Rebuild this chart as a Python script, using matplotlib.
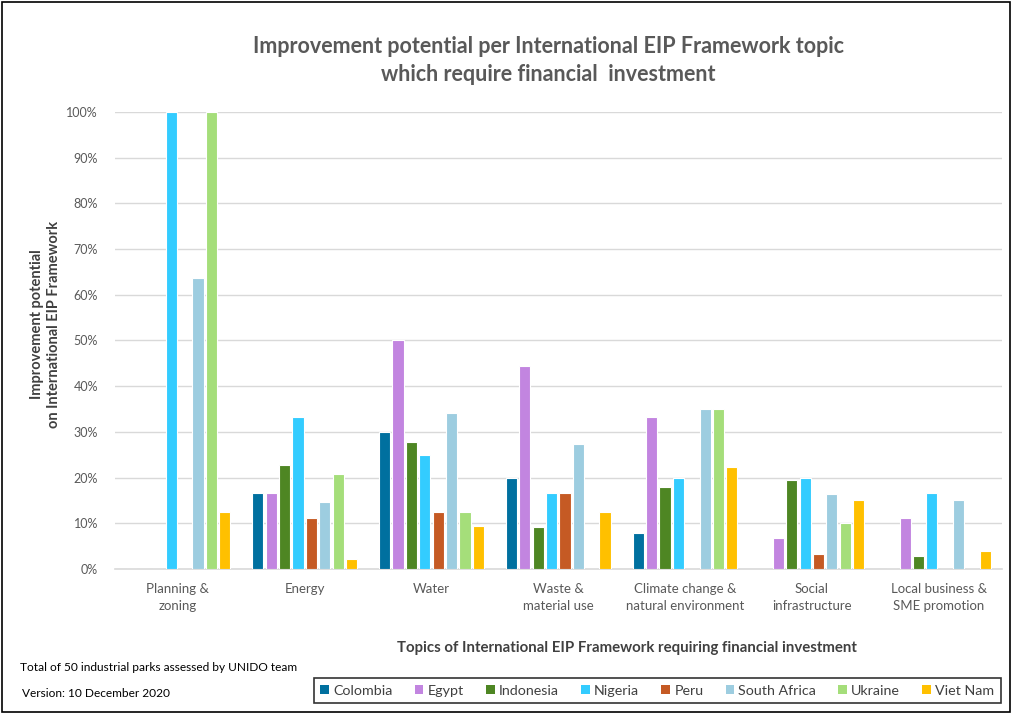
import matplotlib
matplotlib.use("Agg")
import matplotlib.pyplot as plt
import numpy as np
from matplotlib.patches import Rectangle, Patch
from matplotlib.ticker import PercentFormatter

categories = ["Planning &\nzoning", "Energy", "Water", "Waste &\nmaterial use",
              "Climate change &\nnatural environment", "Social\ninfrastructure",
              "Local business &\nSME promotion"]
countries = ["Colombia", "Egypt", "Indonesia", "Nigeria", "Peru", "South Africa", "Ukraine", "Viet Nam"]
colombia = [0, 16.7, 30.0, 20.0, 7.8, 0, 0]
egypt = [0, 16.7, 50.0, 44.4, 33.3, 6.7, 11.1]
indonesia = [0, 22.7, 27.8, 9.1, 18.0, 19.4, 2.9]
nigeria = [100, 33.3, 25.0, 16.7, 20.0, 20.0, 16.7]
peru = [0, 11.1, 12.5, 16.7, 0, 3.3, 0]
south_africa = [63.6, 14.6, 34.1, 27.3, 35.1, 16.4, 15.2]
ukraine = [100, 20.8, 12.5, 0, 35.1, 10.0, 0]
viet_nam = [12.5, 2.1, 9.3, 12.5, 22.4, 15.0, 4.0]
series = [colombia, egypt, indonesia, nigeria, peru, south_africa, ukraine, viet_nam]
colors = ["#00709F", "#C285E0", "#4E8623", "#33CCFF", "#C55A24", "#9DCDE0", "#A5DE7A", "#FFC000"]

plt.rcParams['font.family'] = ['Lato', 'DejaVu Sans']
fig = plt.figure(figsize=(10.13, 7.13), dpi=100)
ax = fig.add_axes([0.1131, 0.202, 0.876, 0.641])

x = np.arange(len(categories))
stride = 0.1055
for j, (vals, c, name) in enumerate(zip(series, colors, countries)):
    ax.bar(x + (j - 3.5) * stride, np.array(vals) / 100, width=0.088, color=c,
           edgecolor="white", linewidth=0.8, label=name, zorder=3)

ax.set_xlim(-0.5, len(categories) - 0.5)
ax.set_ylim(0, 1.0)
ax.set_yticks(np.arange(0, 1.01, 0.1))
ax.yaxis.set_major_formatter(PercentFormatter(1.0, decimals=0))
ax.grid(axis="y", color="#D9D9D9", linewidth=1.0, zorder=0)
for s in ["top", "right", "left"]:
    ax.spines[s].set_visible(False)
ax.spines["bottom"].set_color("#D9D9D9")
ax.spines["bottom"].set_linewidth(1.2)
ax.tick_params(axis="y", length=0, pad=12, labelcolor="#595959", labelsize=9)
ax.set_xticks(x)
ax.set_xticklabels(categories, color="#595959", fontsize=9.5, linespacing=1.5)
ax.tick_params(axis="x", length=0, pad=10)

fig.text(0.541, 0.915, "Improvement potential per International EIP Framework topic\nwhich require financial  investment",
         ha="center", va="center", fontsize=15.5, fontweight="bold", color="#595959", linespacing=1.45)
fig.text(0.045, 0.545, "Improvement potential\non International EIP Framework", rotation=90,
         ha="center", va="center", fontsize=10.5, fontweight="bold", color="#404040", linespacing=1.2)
fig.text(0.619, 0.091, "Topics of International EIP Framework requiring financial investment",
         ha="center", va="center", fontsize=10.8, fontweight="bold", color="#404040")
fig.text(0.02, 0.064, "Total of 50 industrial parks assessed by UNIDO team", ha="left", va="center",
         fontsize=8.6, color="#000000")
fig.text(0.022, 0.028, "Version: 10 December 2020", ha="left", va="center",
         fontsize=8.6, color="#000000")

handles = [Patch(facecolor=c, label=n) for c, n in zip(colors, countries)]
leg = fig.legend(handles=handles, loc="center", bbox_to_anchor=(0.649, 0.0315), ncol=8,
                 frameon=True, fontsize=10.3, handlelength=0.6, handleheight=0.6,
                 handletextpad=0.3, columnspacing=1.55, borderpad=0.45, fancybox=False)
leg.get_frame().set_edgecolor("black")
leg.get_frame().set_linewidth(1.2)
for t in leg.get_texts():
    t.set_color("#404040")

fig.patches.append(Rectangle((0.002, 0.002), 0.995, 0.995, transform=fig.transFigure,
                             fill=False, edgecolor="black", linewidth=1.2))

fig.savefig("out.png", dpi=100)
